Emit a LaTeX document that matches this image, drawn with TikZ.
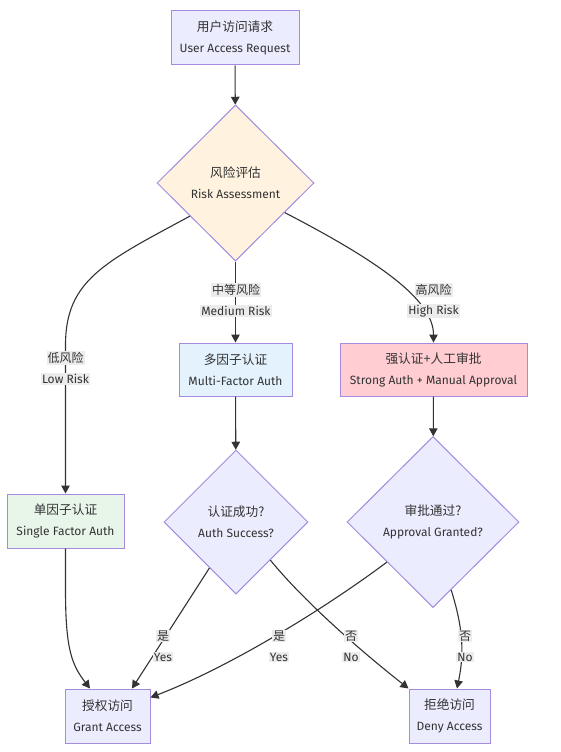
\documentclass[tikz,border=0pt]{standalone}
\usepackage{fontspec}
\setmainfont{Fira Sans}
\newfontfamily\cjk{Noto Sans CJK SC}
\usetikzlibrary{shapes.geometric,arrows.meta}
\definecolor{txt}{HTML}{333333}
\definecolor{bord}{HTML}{A58BDF}
\definecolor{lav}{HTML}{ECECFF}
\definecolor{riskfill}{HTML}{FFF3E0}
\definecolor{multifill}{HTML}{E3F2FD}
\definecolor{strongfill}{HTML}{FFCDD2}
\definecolor{singlefill}{HTML}{E8F5E9}
\definecolor{labelbg}{HTML}{ECECEC}
\definecolor{edgec}{HTML}{333333}
\newcommand\twol[2]{{\cjk\fontsize{12.7pt}{21pt}\selectfont #1}\\{\fontsize{12pt}{21pt}\selectfont #2}}
\tikzset{
  box/.style={draw=bord, line width=1pt, fill=lav, rectangle, inner sep=0pt, align=center, text=txt, font=\fontsize{12pt}{21pt}\selectfont},
  dia/.style={draw=bord, line width=1pt, fill=lav, diamond, aspect=1, inner sep=0pt, align=center, text=txt, font=\fontsize{12pt}{21pt}\selectfont},
  edge/.style={draw=edgec, line width=1.1pt, -{Triangle[length=8pt,width=8.5pt]}},
  elab/.style={fill=labelbg, inner sep=1pt, text=txt, font=\fontsize{12pt}{14pt}\selectfont},
}
\begin{document}
\begin{tikzpicture}[x=1pt,y=-1pt]
\useasboundingbox (0,0) rectangle (560,752);
\fill[white] (0,0) rectangle (560,752);

% nodes
\node[box, minimum width=128pt, minimum height=54pt] (req) at (235,38) {\twol{用户访问请求}{User Access Request}};
\node[dia, fill=riskfill, minimum width=157pt, minimum height=156pt] (risk) at (235.5,183) {\twol{风险评估}{Risk Assessment}};
\node[box, fill=multifill, minimum width=113pt, minimum height=53pt] (multi) at (235.5,369.5) {\twol{多因子认证}{Multi-Factor Auth}};
\node[box, fill=strongfill, minimum width=187pt, minimum height=53pt] (strong) at (433.5,369.5) {\twol{强认证+人工审批}{Strong Auth + Manual Approval}};
\node[box, fill=singlefill, minimum width=117pt, minimum height=54pt] (single) at (65.5,521) {\twol{单因子认证}{Single Factor Auth}};
\node[dia, minimum width=144pt, minimum height=144pt] (auth) at (236,522) {\twol{认证成功?}{Auth Success?}};
\node[dia, minimum width=172pt, minimum height=171pt] (appr) at (433,522) {\twol{审批通过?}{Approval Granted?}};
\node[box, minimum width=85pt, minimum height=54pt] (grant) at (107.5,716) {\twol{授权访问}{Grant Access}};
\node[box, minimum width=81pt, minimum height=54pt] (deny) at (449.5,716) {\twol{拒绝访问}{Deny Access}};

% edges
\draw[edge] (req) -- (risk);
\draw[edge] (risk) -- (multi);
\draw[edge] (risk.216) .. controls (105,262) and (65.5,280) .. (65.5,345) -- (single.north);
\draw[edge] (risk.329) .. controls (380,262) and (433.5,300) .. (strong.north);
\draw[edge] (multi) -- (auth);
\draw[edge] (strong) -- (appr);
\draw[edge] (single.south) -- (65.5,590) .. controls (65.5,650) and (72,665) .. ([xshift=-17.5pt]grant.north);
\draw[edge] (auth.240.5) -- ([xshift=24.5pt]grant.north);
\draw[edge] (appr.221) .. controls (327,607) and (232,666) .. ([yshift=-9pt]grant.north east);
\draw[edge] (auth.312) .. controls (303,600) and (357,648) .. (deny.north west);
\draw[edge] (appr.285) .. controls (462,625) and (465,650) .. ([xshift=7.5pt]deny.north);

% edge labels
\node[elab] (lm1) at (236,290) {\cjk 中等风险};
\node[elab] (lm2) at (236,311) {Medium Risk};
\node[elab] (ll1) at (65.5,358) {\cjk 低风险};
\node[elab] (ll2) at (65.5,379) {Low Risk};
\node[elab] (lh1) at (433.5,290) {\cjk 高风险};
\node[elab] (lh2) at (433.5,311) {High Risk};
\node[elab] (ly1) at (163,636) {\cjk 是};
\node[elab] (ly2) at (163,657) {Yes};
\node[elab] (lz1) at (279,636) {\cjk 是};
\node[elab] (lz2) at (279,657) {Yes};
\node[elab] (ln1) at (351,636) {\cjk 否};
\node[elab] (ln2) at (351,657) {No};
\node[elab] (lo1) at (465,636) {\cjk 否};
\node[elab] (lo2) at (465,657) {No};
\end{tikzpicture}
\end{document}
